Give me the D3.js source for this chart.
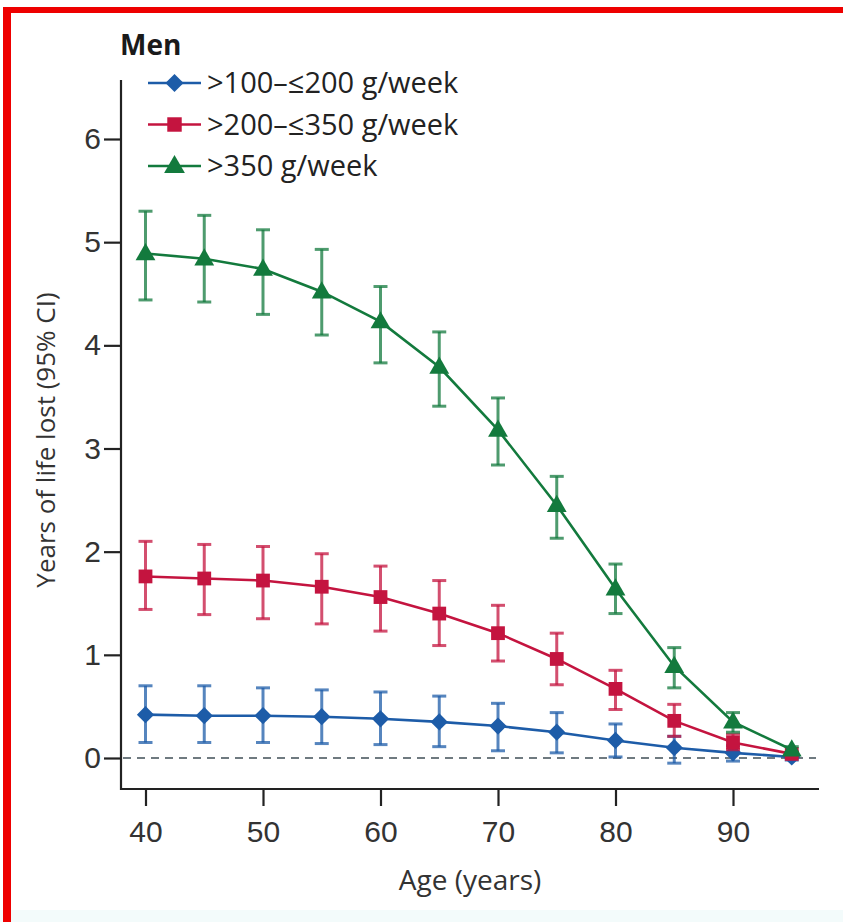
<!DOCTYPE html>
<html>
<head>
<meta charset="utf-8">
<script src="https://cdn.jsdelivr.net/npm/d3@7"></script>
<style>
  html, body { margin: 0; padding: 0; background: #fff; }
  svg { display: block; font-family: "Open Sans", "Noto Sans", sans-serif; }
</style>
</head>
<body>
<svg id="chart" width="843" height="922"></svg>
<script>
const ages = [40, 45, 50, 55, 60, 65, 70, 75, 80, 85, 90, 95];

const lowMean = [0.42, 0.41, 0.41, 0.40, 0.38, 0.35, 0.31, 0.25, 0.17, 0.10, 0.05, 0.01];
const lowLo   = [0.15, 0.15, 0.15, 0.14, 0.13, 0.11, 0.07, 0.05, 0.01, -0.05, -0.03, -0.02];
const lowHi   = [0.70, 0.70, 0.68, 0.66, 0.64, 0.60, 0.53, 0.44, 0.33, 0.21, 0.12, 0.03];

const midMean = [1.76, 1.74, 1.72, 1.66, 1.56, 1.40, 1.21, 0.96, 0.67, 0.36, 0.15, 0.04];
const midLo   = [1.44, 1.39, 1.35, 1.30, 1.23, 1.09, 0.94, 0.71, 0.47, 0.21, 0.08, 0.02];
const midHi   = [2.10, 2.07, 2.05, 1.98, 1.86, 1.72, 1.48, 1.21, 0.85, 0.52, 0.23, 0.06];

const highMean = [4.89, 4.84, 4.74, 4.52, 4.23, 3.79, 3.18, 2.45, 1.64, 0.89, 0.35, 0.08];
const highLo   = [4.44, 4.42, 4.30, 4.10, 3.83, 3.41, 2.84, 2.13, 1.40, 0.68, 0.25, 0.05];
const highHi   = [5.30, 5.26, 5.12, 4.93, 4.57, 4.13, 3.49, 2.73, 1.88, 1.07, 0.44, 0.11];

const xTicks = [40, 50, 60, 70, 80, 90];
const yTicks = [0, 1, 2, 3, 4, 5, 6];

const series = [
    { label: '>100–≤200 g/week', color: '#1d5ca8', symbol: 'diamond', mean: lowMean, lo: lowLo, hi: lowHi },
    { label: '>200–≤350 g/week', color: '#c4143f', symbol: 'square', mean: midMean, lo: midLo, hi: midHi },
    { label: '>350 g/week', color: '#137a3d', symbol: 'triangle', mean: highMean, lo: highLo, hi: highHi },
];

const svg = d3.select('#chart');

// frame of the screenshot
svg.append('rect').attr('x', 0).attr('y', 910).attr('width', 843).attr('height', 12).attr('fill', '#f3fbfb');
svg.append('rect').attr('x', 3).attr('y', 7).attr('width', 840).attr('height', 6).attr('fill', '#ee0000');
svg.append('rect').attr('x', 3).attr('y', 7).attr('width', 8).attr('height', 915).attr('fill', '#ee0000');

const x = d3.scaleLinear().domain([40, 90]).range([145.5, 733]);
const y = d3.scaleLinear().domain([0, 6]).range([758, 139]);
const axisLeft = 121;
const axisBottom = 789;

// axes
const xAxis = svg.append('g')
    .attr('transform', `translate(0,${axisBottom})`)
    .call(d3.axisBottom(x).tickValues(xTicks).tickSize(17).tickPadding(10).tickSizeOuter(0));
xAxis.select('.domain').attr('d', `M${axisLeft},0H819`);

const yAxis = svg.append('g')
    .attr('transform', `translate(${axisLeft},0)`)
    .call(d3.axisLeft(y).tickValues(yTicks).tickFormat(d3.format('d')).tickSize(17).tickPadding(3).tickSizeOuter(0));
yAxis.select('.domain').attr('d', `M0,80V${axisBottom + 1}`);

svg.selectAll('.domain, .tick line').attr('stroke', '#222').attr('stroke-width', 2.2);
svg.selectAll('.tick text').attr('fill', '#333').attr('font-size', 30);
xAxis.selectAll('.tick text').attr('dy', '0.85em');

// zero reference line
svg.append('line')
    .attr('x1', axisLeft + 2).attr('x2', 816)
    .attr('y1', y(0)).attr('y2', y(0))
    .attr('stroke', '#6f7a80').attr('stroke-width', 2)
    .attr('stroke-dasharray', '8,6');

const symbolType = { diamond: d3.symbolDiamond2, square: d3.symbolSquare, triangle: d3.symbolTriangle };
const symbolSize = { diamond: 190, square: 190, triangle: 170 };

const line = d3.line().x(d => x(d.age)).y(d => y(d.v));

series.forEach(s => {
    const rows = ages.map((age, i) => ({ age, v: s.mean[i], lo: s.lo[i], hi: s.hi[i] }));
    const g = svg.append('g');

    const bars = g.append('g')
        .attr('stroke', s.color)
        .attr('stroke-opacity', 0.75)
        .attr('stroke-width', 3)
        .selectAll('g').data(rows).join('g');
    bars.append('line')
        .attr('x1', d => x(d.age)).attr('x2', d => x(d.age))
        .attr('y1', d => y(d.lo)).attr('y2', d => y(d.hi));
    bars.append('line')
        .attr('x1', d => x(d.age) - 7).attr('x2', d => x(d.age) + 7)
        .attr('y1', d => y(d.hi)).attr('y2', d => y(d.hi));
    bars.append('line')
        .attr('x1', d => x(d.age) - 7).attr('x2', d => x(d.age) + 7)
        .attr('y1', d => y(d.lo)).attr('y2', d => y(d.lo));

    g.append('path')
        .datum(rows)
        .attr('d', line)
        .attr('fill', 'none')
        .attr('stroke', s.color)
        .attr('stroke-width', 2.6);

    g.selectAll('path.marker').data(rows).join('path')
        .attr('class', 'marker')
        .attr('transform', d => `translate(${x(d.age)},${y(d.v) + (s.symbol === 'triangle' ? 1 : 0)})`)
        .attr('d', d3.symbol(symbolType[s.symbol], symbolSize[s.symbol]))
        .attr('fill', s.color);
});

// legend
svg.append('text')
    .attr('x', 120).attr('y', 55)
    .attr('font-size', 28).attr('font-weight', 700)
    .attr('fill', '#1a1a1a')
    .text('Men');

const legend = svg.append('g');
series.forEach((s, i) => {
    const ly = 83 + i * 41.5;
    legend.append('line')
        .attr('x1', 148).attr('x2', 201).attr('y1', ly).attr('y2', ly)
        .attr('stroke', s.color).attr('stroke-width', 2.6);
    legend.append('path')
        .attr('transform', `translate(174.5,${ly + (s.symbol === 'triangle' ? 1 : 0)})`)
        .attr('d', d3.symbol(symbolType[s.symbol], symbolSize[s.symbol] * 1.1))
        .attr('fill', s.color);
    legend.append('text')
        .attr('x', 207).attr('y', ly)
        .attr('dy', '0.36em')
        .attr('font-size', 29)
        .attr('fill', '#222')
        .text(s.label);
});

// axis titles
svg.append('text')
    .attr('x', 470).attr('y', 890)
    .attr('text-anchor', 'middle')
    .attr('font-size', 28).attr('fill', '#333')
    .text('Age (years)');

svg.append('text')
    .attr('transform', 'translate(55,440) rotate(-90)')
    .attr('text-anchor', 'middle')
    .attr('font-size', 26).attr('fill', '#333')
    .text('Years of life lost (95% CI)');
</script>
</body>
</html>
